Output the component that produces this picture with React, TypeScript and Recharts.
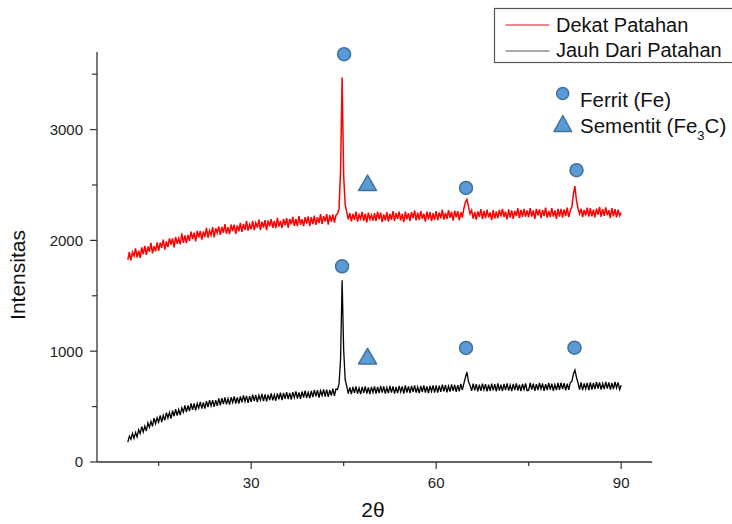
import React from 'react';
import { ComposedChart, Line, Scatter, XAxis, YAxis, Legend, Label } from 'recharts';

// 2θ grid of the diffractograms
const thetaStart = 10;
const thetaStep = 0.25;

// Intensitas, sample "Dekat Patahan" (2θ = 10 … 90, step 0.25)
const dekatPatahan = [
  1825, 1895, 1819, 1894, 1858, 1928, 1847, 1907, 1841, 1936, 1875, 1950, 1869, 1944, 1898, 1978, 1882, 1947, 1901, 1981,
  1905, 1979, 1933, 2007, 1917, 1991, 1940, 2019, 1963, 2018, 1937, 2031, 1970, 2019, 1964, 2063, 1977, 2046, 1975, 2050,
  1995, 2078, 2011, 2069, 1992, 2085, 2027, 2085, 2008, 2081, 2029, 2112, 2025, 2088, 2046, 2119, 2026, 2109, 2067, 2125,
  2050, 2122, 2069, 2146, 2062, 2119, 2056, 2143, 2085, 2142, 2058, 2135, 2082, 2159, 2076, 2148, 2094, 2176, 2088, 2145,
  2100, 2176, 2093, 2159, 2115, 2187, 2093, 2169, 2116, 2182, 2093, 2180, 2126, 2192, 2114, 2175, 2111, 2203, 2124, 2175,
  2113, 2194, 2135, 2201, 2112, 2194, 2145, 2211, 2132, 2193, 2129, 2220, 2141, 2192, 2128, 2210, 2151, 2217, 2128, 2209,
  2147, 2223, 2139, 2210, 2156, 2237, 2148, 2219, 2170, 2236, 2142, 2228, 2169, 2235, 2161, 2227, 2240, 2285, 2640, 3470,
  2580, 2320, 2255, 2190, 2245, 2172, 2238, 2185, 2260, 2168, 2232, 2195, 2257, 2176, 2241, 2163, 2250, 2190, 2229, 2178,
  2245, 2175, 2260, 2190, 2250, 2165, 2235, 2180, 2255, 2170, 2240, 2185, 2265, 2175, 2245, 2195, 2260, 2180, 2240, 2165,
  2260, 2190, 2245, 2175, 2255, 2200, 2270, 2180, 2250, 2185, 2265, 2195, 2240, 2170, 2260, 2190, 2255, 2175, 2245, 2185,
  2263, 2183, 2253, 2198, 2278, 2188, 2248, 2193, 2273, 2203, 2258, 2178, 2268, 2208, 2263, 2183, 2255, 2205, 2290, 2345,
  2370, 2300, 2240, 2272, 2197, 2257, 2187, 2262, 2212, 2282, 2192, 2267, 2202, 2277, 2207, 2252, 2182, 2272, 2197, 2262,
  2200, 2275, 2215, 2285, 2210, 2260, 2190, 2280, 2205, 2270, 2195, 2265, 2220, 2290, 2200, 2275, 2210, 2285, 2215, 2270,
  2210, 2290, 2215, 2270, 2195, 2285, 2225, 2280, 2200, 2275, 2220, 2295, 2205, 2265, 2210, 2290, 2215, 2270, 2195, 2285,
  2215, 2285, 2205, 2280, 2220, 2295, 2210, 2270, 2300, 2415, 2490, 2360, 2290, 2240, 2285, 2210, 2275, 2225, 2295, 2215,
  2292, 2217, 2277, 2207, 2287, 2232, 2302, 2212, 2282, 2222, 2297, 2227, 2272, 2202, 2292, 2217, 2282, 2207, 2277, 2222,
  2250,
];

// Intensitas, sample "Jauh Dari Patahan" (2θ = 10 … 90, step 0.25)
const jauhDariPatahan = [
  180, 234, 204, 258, 213, 267, 227, 291, 256, 320, 270, 324, 279, 353, 313, 367, 322, 396, 346, 400,
  360, 420, 361, 421, 376, 446, 397, 447, 392, 463, 413, 478, 418, 474, 424, 489, 449, 510, 450, 510,
  460, 528, 470, 528, 465, 528, 486, 543, 481, 538, 481, 549, 496, 559, 506, 559, 497, 559, 507, 575,
  510, 576, 523, 584, 520, 572, 518, 584, 536, 592, 528, 584, 526, 592, 538, 600, 546, 597, 534, 595,
  542, 608, 549, 605, 541, 602, 558, 614, 550, 611, 547, 608, 559, 620, 556, 607, 553, 619, 565, 626,
  558, 624, 570, 631, 567, 623, 564, 630, 581, 637, 573, 629, 570, 636, 582, 643, 579, 630, 576, 642,
  585, 651, 592, 648, 582, 643, 600, 656, 591, 652, 588, 649, 600, 661, 597, 658, 655, 705, 930, 1640,
  1010, 740, 685, 618, 673, 613, 678, 623, 683, 618, 668, 613, 678, 623, 683, 618, 673, 613, 678, 628,
  682, 617, 677, 622, 687, 627, 682, 617, 672, 622, 687, 627, 682, 617, 677, 622, 687, 632, 682, 617,
  692, 627, 682, 622, 687, 632, 692, 627, 677, 622, 687, 632, 692, 627, 682, 622, 687, 637, 692, 627,
  692, 627, 688, 633, 698, 638, 694, 629, 685, 635, 701, 641, 697, 632, 693, 638, 704, 650, 710, 765,
  810, 725, 690, 642, 707, 647, 702, 637, 697, 642, 707, 652, 702, 637, 697, 642, 707, 647, 702, 637,
  709, 644, 699, 639, 704, 649, 709, 644, 694, 639, 704, 649, 709, 644, 699, 639, 704, 654, 709, 644,
  648, 713, 653, 708, 643, 703, 648, 713, 658, 708, 643, 703, 648, 713, 653, 708, 643, 698, 648, 713,
  652, 717, 657, 712, 647, 707, 652, 717, 725, 795, 830, 765, 715, 654, 719, 649, 709, 659, 714, 649,
  718, 653, 713, 658, 723, 663, 718, 653, 708, 658, 723, 663, 718, 653, 713, 658, 723, 668, 718, 653,
  692,
];

// Phase markers
const ferritDekat = [
  { x: 45.07, y: 3680 },
  { x: 64.84, y: 2473 },
  { x: 82.76, y: 2633 },
];
const ferritJauh = [
  { x: 44.74, y: 1766 },
  { x: 64.84, y: 1029 },
  { x: 82.43, y: 1032 },
];
const sementit = [
  { x: 48.87, y: 2513 },
  { x: 48.87, y: 948 },
];

// Axes
const xDomain = [5, 95];
const xTicks = [15, 30, 45, 60, 75, 90];
const xMajorTicks = [30, 60, 90];
const yDomain = [0, 3700];
const yTicks = [0, 500, 1000, 1500, 2000, 2500, 3000, 3500];
const yMajorTicks = [0, 1000, 2000, 3000];

const seriesNames = ['Dekat Patahan', 'Jauh Dari Patahan'];
const phaseNames = ['Ferrit (Fe)', 'Sementit (Fe', '3', 'C)'];

const data = dekatPatahan.map((v, i) => ({
  x: thetaStart + i * thetaStep,
  red: v,
  black: jauhDariPatahan[i],
}));

const FONT = '"Liberation Sans", Arial, sans-serif';
const MARK_FILL = '#5b9bd5';
const MARK_STROKE = '#41719c';

const XTick = (props: any) => {
  const { x, y, payload } = props;
  const major = xMajorTicks.includes(payload.value);
  return (
    <g>
      <line x1={x} x2={x} y1={y} y2={y + (major ? 7 : 4)} stroke="#333" strokeWidth={1.2} />
      {major && (
        <text x={x} y={y + 26} textAnchor="middle" fontSize={15} fill="#222" fontFamily={FONT}>
          {payload.value}
        </text>
      )}
    </g>
  );
};

const YTick = (props: any) => {
  const { x, y, payload } = props;
  const major = yMajorTicks.includes(payload.value);
  return (
    <g>
      <line x1={x} x2={x - (major ? 7 : 5)} y1={y} y2={y} stroke="#333" strokeWidth={1.2} />
      {major && (
        <text x={x - 14} y={y + 5.4} textAnchor="end" fontSize={15} fill="#222" fontFamily={FONT}>
          {payload.value}
        </text>
      )}
    </g>
  );
};

const CircleMark = (props: any) => (
  <circle cx={props.cx} cy={props.cy} r={6.5} fill={MARK_FILL} stroke={MARK_STROKE} strokeWidth={1.5} />
);

const TriangleMark = (props: any) => {
  const { cx, cy } = props;
  return (
    <polygon
      points={`${cx},${cy - 8.5} ${cx - 9},${cy + 7} ${cx + 9},${cy + 7}`}
      fill={MARK_FILL}
      stroke={MARK_STROKE}
      strokeWidth={1.5}
      strokeLinejoin="round"
    />
  );
};

const renderLegend = () => (
  <svg width={732} height={150} style={{ position: 'absolute', left: 0, top: 0 }} fontFamily={FONT}>
    <rect x={494.5} y={8.5} width={260} height={54} fill="#fff" stroke="#555" strokeWidth={1.2} />
    <line x1={505.5} x2={549.5} y1={25} y2={25} stroke="#d4141e" strokeWidth={1} />
    <text x={556} y={32} fontSize={20} fill="#111">{seriesNames[0]}</text>
    <line x1={505.5} x2={549.5} y1={51} y2={51} stroke="#555" strokeWidth={1} />
    <text x={556} y={57} fontSize={20} fill="#111">{seriesNames[1]}</text>
    <circle cx={562.7} cy={93.5} r={6} fill={MARK_FILL} stroke={MARK_STROKE} strokeWidth={1.5} />
    <text x={580} y={106.5} fontSize={20.5} fill="#111">{phaseNames[0]}</text>
    <polygon
      points="562.8,115.5 554,131.5 571.6,131.5"
      fill={MARK_FILL}
      stroke={MARK_STROKE}
      strokeWidth={1.5}
      strokeLinejoin="round"
    />
    <text x={580} y={132.5} fontSize={20.5} fill="#111">
      {phaseNames[1]}
      <tspan fontSize={13} dy={7}>{phaseNames[2]}</tspan>
      <tspan dy={-7}>{phaseNames[3]}</tspan>
    </text>
  </svg>
);

export default function App() {
  return (
    <div style={{ position: 'absolute', left: 0, top: 0, width: 732, height: 524, background: '#fff' }}>
      <ComposedChart
        width={732}
        height={524}
        data={data}
        margin={{ top: 52, right: 80, bottom: 22, left: 37 }}
      >
        <XAxis
          dataKey="x"
          type="number"
          domain={xDomain}
          ticks={xTicks}
          interval={0}
          height={40}
          axisLine={{ stroke: '#333', strokeWidth: 1.3 }}
          tickLine={false}
          tickSize={0}
          tickMargin={0}
          tick={<XTick />}
        >
          <Label
            content={() => (
              <text x={373} y={517} textAnchor="middle" fontSize={21} fill="#111" fontFamily={FONT}>
                2θ
              </text>
            )}
          />
        </XAxis>
        <YAxis
          type="number"
          domain={yDomain}
          ticks={yTicks}
          interval={0}
          width={60}
          axisLine={{ stroke: '#333', strokeWidth: 1.3 }}
          tickLine={false}
          tickSize={0}
          tickMargin={0}
          tick={<YTick />}
        >
          <Label
            content={() => (
              <text
                transform="translate(25,275) rotate(-90)"
                textAnchor="middle"
                fontSize={21}
                fill="#111"
                fontFamily={FONT}
              >
                Intensitas
              </text>
            )}
          />
        </YAxis>
        <Legend
          layout="horizontal"
          verticalAlign="middle"
          align="center"
          content={renderLegend}
          wrapperStyle={{ left: 0, top: 0, width: 732, height: 150, pointerEvents: 'none' }}
        />
        <Line
          type="linear"
          dataKey="red"
          name={seriesNames[0]}
          stroke="#ff0000"
          strokeWidth={1.5}
          strokeLinejoin="miter"
          dot={false}
          isAnimationActive={false}
        />
        <Line
          type="linear"
          dataKey="black"
          name={seriesNames[1]}
          stroke="#000"
          strokeWidth={1.3}
          strokeLinejoin="miter"
          dot={false}
          isAnimationActive={false}
        />
        <Scatter data={ferritDekat} dataKey="y" shape={<CircleMark />} isAnimationActive={false} />
        <Scatter data={ferritJauh} dataKey="y" shape={<CircleMark />} isAnimationActive={false} />
        <Scatter data={sementit} dataKey="y" shape={<TriangleMark />} isAnimationActive={false} />
      </ComposedChart>
    </div>
  );
}
